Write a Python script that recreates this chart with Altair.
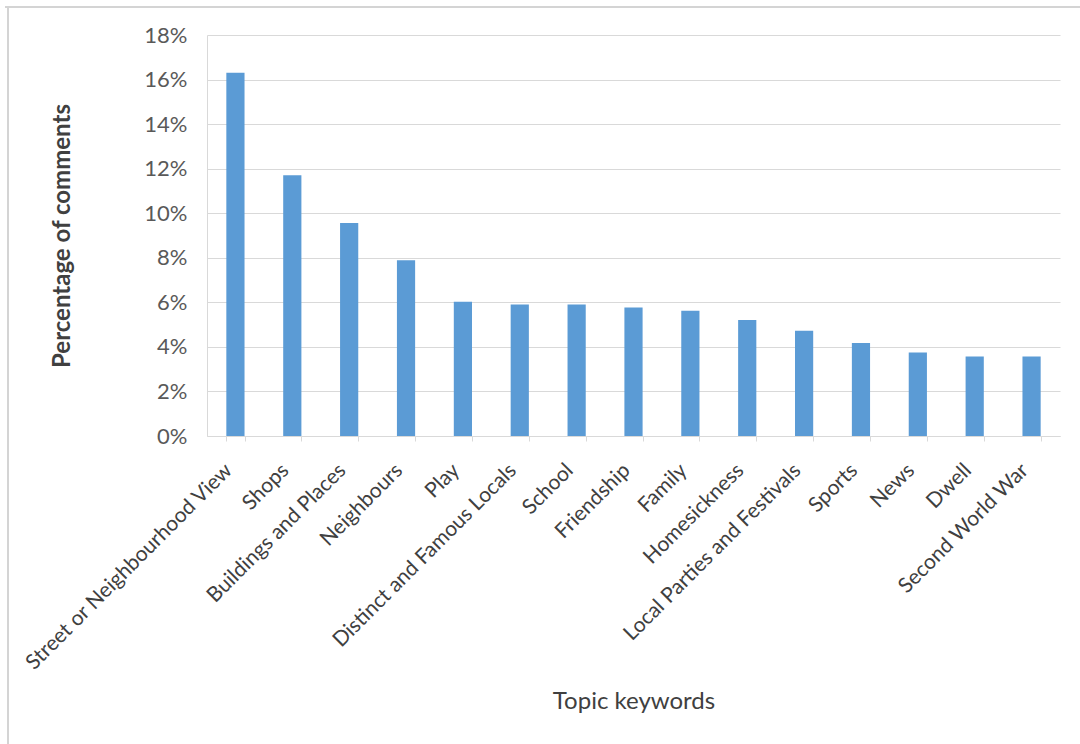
import altair as alt
import pandas as pd

# Share of comments per topic keyword
topics = [
    "Street or Neighbourhood View", "Shops", "Buildings and Places", "Neighbours",
    "Play", "Distinct and Famous Locals", "School", "Friendship", "Family",
    "Homesickness", "Local Parties and Festivals", "Sports", "News", "Dwell",
    "Second World War",
]
shares = [0.163, 0.117, 0.0956, 0.0789, 0.0603, 0.059, 0.059, 0.0577, 0.0562,
          0.0521, 0.0472, 0.0418, 0.0375, 0.0357, 0.0357]
y_ticks = [0, 0.02, 0.04, 0.06, 0.08, 0.10, 0.12, 0.14, 0.16, 0.18]

df = pd.DataFrame({"topic": topics, "share": shares})

PLOT_W, PLOT_H = 853, 401
LEFT, TOP = 207, 35
GRID = "#d9d9d9"
FONT = "Lato"

bars = alt.Chart(df).mark_bar(color="#5b9bd5").encode(
    x=alt.X(
        "topic:N",
        sort=topics,
        scale=alt.Scale(paddingInner=0.68, paddingOuter=0.34),
        axis=alt.Axis(
            title="Topic keywords",
            titleFont=FONT, titleFontSize=24, titleFontWeight="normal",
            titleColor="#404040", titleBaseline="alphabetic", titleY=272,
            labelFont=FONT, labelFontSize=21, labelColor="#404040",
            labelAngle=-45, labelAlign="right", labelBaseline="middle",
            labelPadding=26, labelOffset=-7, labelOverlap=False, labelLimit=0,
            tickBand="extent", tickSize=5, tickColor=GRID,
            domainColor=GRID, grid=False,
        ),
    ),
    y=alt.Y(
        "share:Q",
        scale=alt.Scale(domain=[0, 0.18], nice=False),
        axis=alt.Axis(
            title="Percentage of comments",
            titleFont=FONT, titleFontSize=24, titleFontWeight="bold",
            titleColor="#404040", titleBaseline="alphabetic", titleX=-138,
            labelFont=FONT, labelFontSize=22, labelColor="#595959",
            values=y_ticks, format=".0%", ticks=False, labelPadding=20,
            domainColor=GRID, gridColor=GRID, grid=True,
        ),
    ),
)

# Light frame around the chart (top and left edges)
frame_data = alt.Data(values=[{}])
frame_top = alt.Chart(frame_data).mark_rule(color="#d4d4d4", strokeWidth=2).encode(
    x=alt.value(5 - LEFT), x2=alt.value(1080 - LEFT), y=alt.value(7 - TOP)
)
frame_left = alt.Chart(frame_data).mark_rule(color="#d4d4d4", strokeWidth=2).encode(
    x=alt.value(8 - LEFT), y=alt.value(7 - TOP), y2=alt.value(744 - TOP)
)

chart = alt.layer(bars, frame_top, frame_left).properties(
    width=PLOT_W,
    height=PLOT_H,
    autosize=alt.AutoSizeParams(type="none"),
    padding={"left": LEFT, "top": TOP, "right": 1080 - LEFT - PLOT_W,
             "bottom": 744 - TOP - PLOT_H},
    background="white",
).configure_view(stroke=None)

chart.save("out.html", embed_options={"renderer": "svg", "actions": False})
